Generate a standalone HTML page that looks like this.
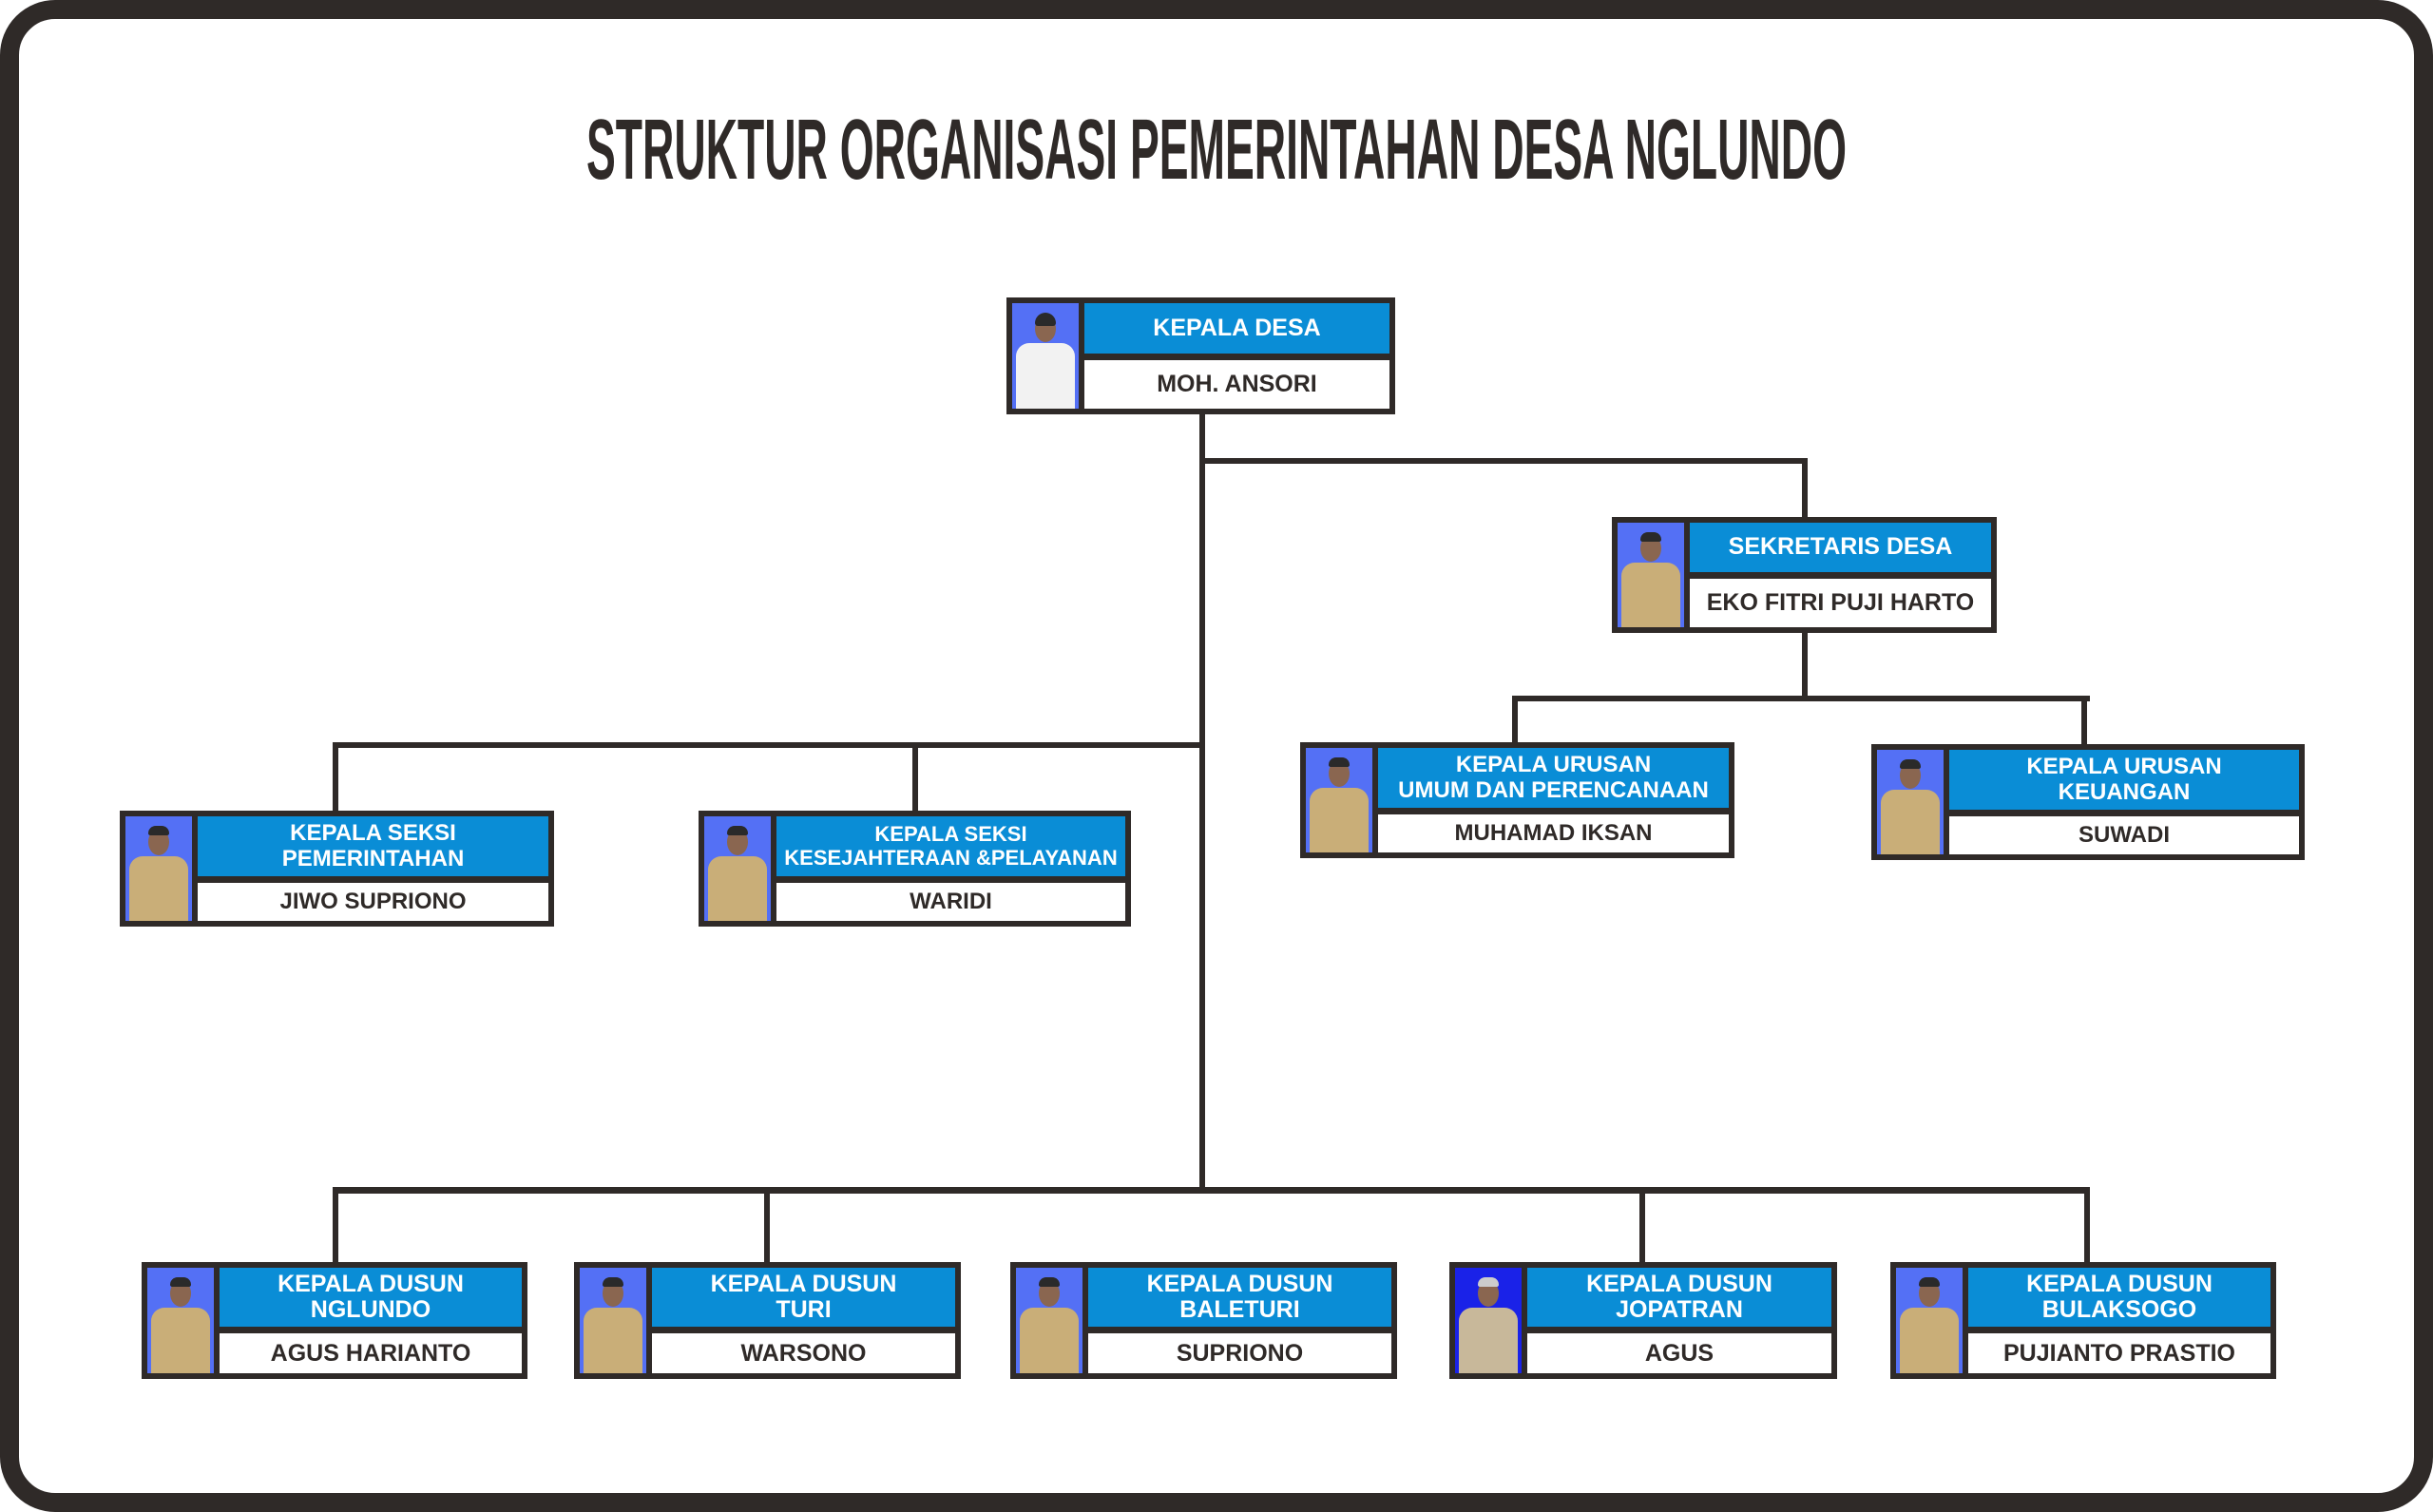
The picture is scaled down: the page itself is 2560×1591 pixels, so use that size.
<!DOCTYPE html>
<html><head><meta charset="utf-8"><style>
body{margin:0;width:2560px;height:1591px;background:#fff;position:relative;overflow:hidden;font-family:"Liberation Sans",Arial,sans-serif}
.frame{position:absolute;left:0;top:0;width:2560px;height:1591px;box-sizing:border-box;border:20px solid #2f2a28;border-radius:58px}
.l{position:absolute;background:#2f2a28}
.box{position:absolute;box-sizing:border-box;border:6px solid #2f2a28;background:#2f2a28;display:flex;gap:6px}
.photo{width:70px;background:#5470f5;position:relative;overflow:hidden}
.photo .b{position:absolute;left:6%;right:6%;bottom:0;height:62%;background:#c9ae78;border-radius:14px 14px 0 0}
.photo .h{position:absolute;left:50%;top:12%;width:22px;height:28px;margin-left:-11px;background:#8a6650;border-radius:50%}
.photo .hr{position:absolute;left:50%;top:9%;width:22px;height:10px;margin-left:-11px;background:#2a2a2a;border-radius:11px 11px 3px 3px}
.col{flex:1;display:flex;flex-direction:column;gap:7px}
.blue{background:#0a8dd6;color:#fff;display:flex;align-items:center;justify-content:center;text-align:center;font-weight:bold;font-size:25px;line-height:27px}
.white{background:#fff;color:#2f2a28;display:flex;align-items:center;justify-content:center;text-align:center;font-weight:bold;font-size:25px}
</style></head><body>
<div class="frame"></div>
<svg style="position:absolute;left:0;top:0" width="2560" height="300"><text x="617" y="188" textLength="1326" lengthAdjust="spacingAndGlyphs" font-family="Liberation Sans Narrow, Liberation Sans, sans-serif" font-weight="bold" font-size="90" fill="#2f2a28">STRUKTUR ORGANISASI PEMERINTAHAN DESA NGLUNDO</text></svg>

<div class="l" style="left:1262px;top:436px;width:6px;height:820px"></div>
<div class="l" style="left:1262px;top:482px;width:640px;height:6px"></div>
<div class="l" style="left:1896px;top:482px;width:6px;height:64px"></div>
<div class="l" style="left:1896px;top:664px;width:6px;height:74px"></div>
<div class="l" style="left:1591px;top:732px;width:608px;height:6px"></div>
<div class="l" style="left:1591px;top:732px;width:6px;height:51px"></div>
<div class="l" style="left:2190px;top:732px;width:6px;height:53px"></div>
<div class="l" style="left:350px;top:781px;width:918px;height:6px"></div>
<div class="l" style="left:350px;top:781px;width:6px;height:73px"></div>
<div class="l" style="left:960px;top:781px;width:6px;height:73px"></div>
<div class="l" style="left:350px;top:1249px;width:1849px;height:7px"></div>
<div class="l" style="left:350px;top:1249px;width:6px;height:80px"></div>
<div class="l" style="left:804px;top:1249px;width:6px;height:80px"></div>
<div class="l" style="left:1725px;top:1249px;width:6px;height:80px"></div>
<div class="l" style="left:2193px;top:1249px;width:6px;height:80px"></div>

<div class="box" style="left:1059px;top:313px;width:409px;height:123px"><div class="photo"><div class="b" style="background:#f2f2f2"></div><div class="h"></div><div class="hr" style="height:14px"></div></div><div class="col"><div class="blue" style="flex:52">KEPALA DESA</div><div class="white" style="flex:50">MOH. ANSORI</div></div></div>

<div class="box" style="left:1696px;top:544px;width:405px;height:122px"><div class="photo"><div class="b"></div><div class="h"></div><div class="hr"></div></div><div class="col"><div class="blue" style="flex:51">SEKRETARIS DESA</div><div class="white" style="flex:51">EKO FITRI PUJI HARTO</div></div></div>

<div class="box" style="left:1368px;top:781px;width:457px;height:122px"><div class="photo"><div class="b"></div><div class="h"></div><div class="hr"></div></div><div class="col"><div class="blue" style="flex:62;font-size:24px">KEPALA URUSAN<br>UMUM DAN PERENCANAAN</div><div class="white" style="flex:40;font-size:24px">MUHAMAD IKSAN</div></div></div>

<div class="box" style="left:1969px;top:783px;width:456px;height:122px"><div class="photo"><div class="b"></div><div class="h"></div><div class="hr"></div></div><div class="col"><div class="blue" style="flex:62;font-size:24px">KEPALA URUSAN<br>KEUANGAN</div><div class="white" style="flex:40;font-size:24px">SUWADI</div></div></div>

<div class="box" style="left:126px;top:853px;width:457px;height:122px"><div class="photo"><div class="b"></div><div class="h"></div><div class="hr"></div></div><div class="col"><div class="blue" style="flex:62;font-size:24px">KEPALA SEKSI<br>PEMERINTAHAN</div><div class="white" style="flex:40;font-size:24px">JIWO SUPRIONO</div></div></div>

<div class="box" style="left:735px;top:853px;width:455px;height:122px"><div class="photo"><div class="b"></div><div class="h"></div><div class="hr"></div></div><div class="col"><div class="blue" style="flex:62;font-size:22px;line-height:25px">KEPALA SEKSI<br>KESEJAHTERAAN &amp;PELAYANAN</div><div class="white" style="flex:40;font-size:24px">WARIDI</div></div></div>

<div class="box" style="left:149px;top:1328px;width:406px;height:123px"><div class="photo"><div class="b"></div><div class="h"></div><div class="hr"></div></div><div class="col"><div class="blue" style="flex:61">KEPALA DUSUN<br>NGLUNDO</div><div class="white" style="flex:41">AGUS HARIANTO</div></div></div>

<div class="box" style="left:604px;top:1328px;width:407px;height:123px"><div class="photo"><div class="b"></div><div class="h"></div><div class="hr"></div></div><div class="col"><div class="blue" style="flex:61">KEPALA DUSUN<br>TURI</div><div class="white" style="flex:41">WARSONO</div></div></div>

<div class="box" style="left:1063px;top:1328px;width:407px;height:123px"><div class="photo"><div class="b"></div><div class="h"></div><div class="hr"></div></div><div class="col"><div class="blue" style="flex:61">KEPALA DUSUN<br>BALETURI</div><div class="white" style="flex:41">SUPRIONO</div></div></div>

<div class="box" style="left:1525px;top:1328px;width:408px;height:123px"><div class="photo" style="background:#1a22e8"><div class="b" style="background:#c8b89a"></div><div class="h"></div><div class="hr" style="background:#ccc"></div></div><div class="col"><div class="blue" style="flex:61">KEPALA DUSUN<br>JOPATRAN</div><div class="white" style="flex:41">AGUS</div></div></div>

<div class="box" style="left:1989px;top:1328px;width:406px;height:123px"><div class="photo"><div class="b"></div><div class="h"></div><div class="hr"></div></div><div class="col"><div class="blue" style="flex:61">KEPALA DUSUN<br>BULAKSOGO</div><div class="white" style="flex:41">PUJIANTO PRASTIO</div></div></div>
</body></html>
